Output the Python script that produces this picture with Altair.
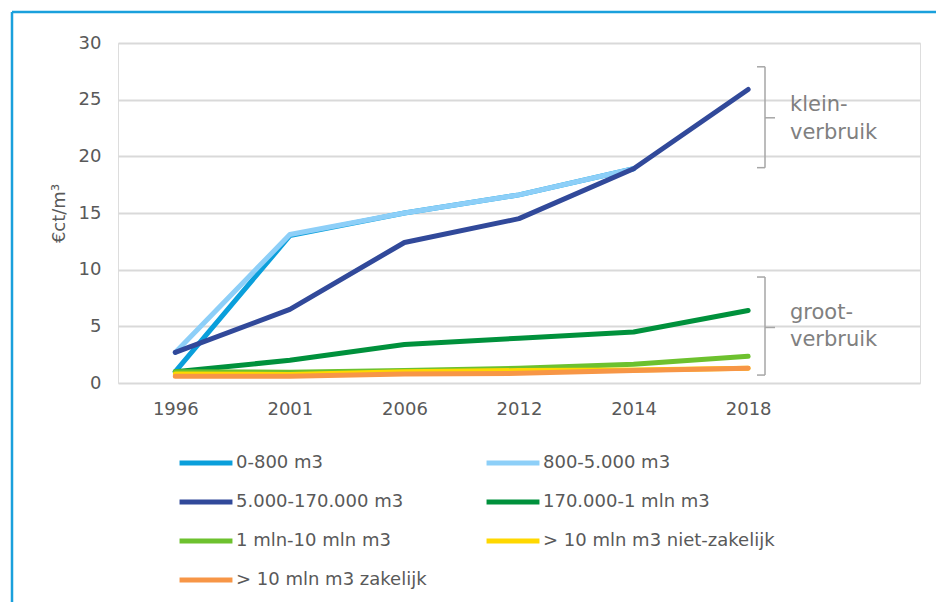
import altair as alt
import pandas as pd

# ---------------- data ----------------
years = ["1996", "2001", "2006", "2012", "2014", "2018"]
x_domain = years + [""]  # Excel axis keeps one empty category on the right

series = [
    "0-800 m3",
    "800-5.000 m3",
    "5.000-170.000 m3",
    "170.000-1 mln m3",
    "1 mln-10 mln m3",
    "> 10 mln m3 niet-zakelijk",
    "> 10 mln m3 zakelijk",
]
colors = ["#0a9fdb", "#8dcff8", "#31499a", "#00913c", "#6dc12e", "#ffd800", "#f79646"]

v_0_800 = [1.0, 13.0, 15.0, 16.6, 18.9, None]
v_800_5000 = [2.7, 13.1, 15.0, 16.6, 18.9, None]
v_5000_170000 = [2.7, 6.5, 12.4, 14.5, 18.9, 25.9]
v_170000_1mln = [1.0, 2.0, 3.4, 3.95, 4.5, 6.4]
v_1_10mln = [1.0, 0.95, 1.1, 1.3, 1.65, 2.35]
v_niet_zakelijk = [0.8, 0.75, 1.0, 1.1, 1.15, 1.3]
v_zakelijk = [0.6, 0.6, 0.8, 0.85, 1.1, 1.3]

all_values = [v_0_800, v_800_5000, v_5000_170000, v_170000_1mln,
              v_1_10mln, v_niet_zakelijk, v_zakelijk]

# bracket annotations (data units on the y axis)
klein_bracket = [27.9, 23.4, 19.0]   # top, tip, bottom
groot_bracket = [9.35, 4.9, 0.7]

rows = []
for s_i, (name, vals) in enumerate(zip(series, all_values)):
    for y_i, (yr, v) in enumerate(zip(years, vals)):
        if v is not None:
            rows.append({"series": name, "year": yr, "value": v, "s": s_i, "i": y_i})
df = pd.DataFrame(rows)

FONT = "DejaVu Sans"
AXIS_COLOR = "#595959"
GRID = "#d9d9d9"
W, H = 802, 340

lines = alt.Chart(df).mark_line(strokeWidth=5, strokeCap="round", strokeJoin="round").encode(
    x=alt.X("year:O",
            scale=alt.Scale(type="point", domain=x_domain, padding=0.5),
            axis=alt.Axis(title=None, labelAngle=0, domain=False, ticks=False,
                          labelPadding=17, labelFontSize=18, labelFont=FONT,
                          labelColor=AXIS_COLOR)),
    y=alt.Y("value:Q",
            scale=alt.Scale(domain=[0, 30], nice=False, zero=True),
            axis=alt.Axis(title="€ct/m³", values=[0, 5, 10, 15, 20, 25, 30],
                          domain=False, ticks=False, gridColor=GRID, gridWidth=2,
                          labelPadding=17, labelFontSize=18, labelFont=FONT,
                          labelColor=AXIS_COLOR, titleFontSize=18, titleFont=FONT,
                          titleFontWeight="normal", titleColor=AXIS_COLOR,
                          titlePadding=10)),
    color=alt.Color("series:N",
                    scale=alt.Scale(domain=series, range=colors),
                    legend=alt.Legend(title=None, orient="none", legendX=59, legendY=391,
                                      direction="horizontal",
                                      columns=2, symbolType="stroke", symbolSize=2800,
                                      symbolStrokeWidth=5, labelFontSize=18, labelFont=FONT,
                                      labelColor=AXIS_COLOR, columnPadding=49, rowPadding=0,
                                      labelOffset=1, padding=0, labelLimit=400)),
    order=alt.Order("i:Q"),
)

one = pd.DataFrame({"a": [0]})
BR = "#a6a6a6"


def bracket(vals):
    top, mid, bot = vals
    bdf = pd.DataFrame({"value": [top], "value2": [bot]})
    vert = alt.Chart(bdf).mark_rule(color=BR, strokeWidth=1.5).encode(
        x=alt.value(647), y=alt.Y("value:Q"), y2="value2:Q")
    hooks = alt.Chart(pd.DataFrame({"value": [top, bot]})).mark_rule(color=BR, strokeWidth=1.5).encode(
        x=alt.value(639), x2=alt.value(647), y=alt.Y("value:Q"))
    tip = alt.Chart(pd.DataFrame({"value": [mid]})).mark_rule(color=BR, strokeWidth=1.5).encode(
        x=alt.value(647), x2=alt.value(657), y=alt.Y("value:Q"))
    return vert + hooks + tip


def label(text, px_y):
    return alt.Chart(one).mark_text(align="left", baseline="middle", fontSize=21,
                                    font=FONT, color="#808080", text=text).encode(
        x=alt.value(672), y=alt.value(px_y))


frame_top = alt.Chart(one).mark_rule(color="#1aa0dc", strokeWidth=2.5).encode(
    x=alt.value(-106), x2=alt.value(818), y=alt.value(-31))
frame_left = alt.Chart(one).mark_rule(color="#1aa0dc", strokeWidth=2.5).encode(
    x=alt.value(-106), y=alt.value(-31), y2=alt.value(560))

chart = alt.layer(
    lines,
    bracket(klein_bracket),
    bracket(groot_bracket),
    label("klein-", 62),
    label("verbruik", 90),
    label("groot-", 270),
    label("verbruik", 297),
    frame_top,
    frame_left,
).properties(
    width=W, height=H,
    autosize=alt.AutoSizeParams(type="none"),
    padding={"left": 118, "top": 43, "right": 16, "bottom": 219},
).configure_view(
    stroke=GRID, strokeWidth=2
).configure(background="white")

chart.save("out.html", embed_options={"renderer": "svg", "actions": False})
